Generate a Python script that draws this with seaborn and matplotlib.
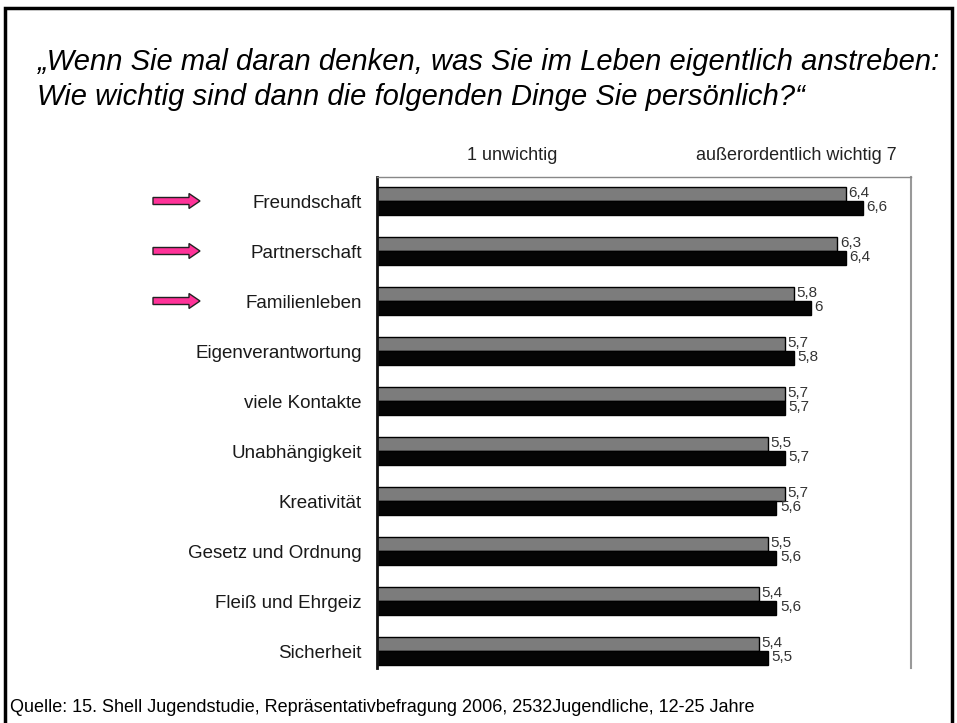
import pandas as pd
import matplotlib.pyplot as plt
import seaborn as sns
from matplotlib.patches import Rectangle, FancyArrow

# Werte (Skala 1 = unwichtig ... 7 = außerordentlich wichtig)
kategorien = ["Freundschaft", "Partnerschaft", "Familienleben", "Eigenverantwortung",
              "viele Kontakte", "Unabhängigkeit", "Kreativität", "Gesetz und Ordnung",
              "Fleiß und Ehrgeiz", "Sicherheit"]
werte_grau = [6.4, 6.3, 5.8, 5.7, 5.7, 5.5, 5.7, 5.5, 5.4, 5.4]
werte_schwarz = [6.6, 6.4, 6.0, 5.8, 5.7, 5.7, 5.6, 5.6, 5.6, 5.5]
serien = ["grau", "schwarz"]
pfeil_kategorien = ["Freundschaft", "Partnerschaft", "Familienleben"]

df = pd.DataFrame({
    "Kategorie": kategorien * 2,
    "Serie": [serien[0]] * len(kategorien) + [serien[1]] * len(kategorien),
    "Wert": werte_grau + werte_schwarz,
})

sns.set_theme(style="white")
plt.rcParams["font.family"] = ["Liberation Sans", "DejaVu Sans"]

fig = plt.figure(figsize=(9.57, 7.23), dpi=100)
ax = fig.add_axes([377 / 957, 55 / 723, 534 / 957, 491 / 723])

sns.barplot(data=df, x="Wert", y="Kategorie", hue="Serie", hue_order=serien,
            order=kategorien, palette={"grau": "#7c7c7c", "schwarz": "#050505"},
            width=0.56, edgecolor="black", linewidth=1.0, saturation=1,
            legend=False, ax=ax)

ax.set_xlim(1.0, 7.15)
ax.set_ylim(len(kategorien) - 1 + 0.34, -0.48)
ax.set_xlabel("")
ax.set_ylabel("")
ax.set_xticks([])
ax.tick_params(axis="y", length=0, pad=11, labelsize=13.5, labelcolor="#1a1a1a")

ax.spines["bottom"].set_visible(False)
ax.spines["left"].set_color("#111111")
ax.spines["left"].set_linewidth(2)
ax.spines["top"].set_color("#888888")
ax.spines["top"].set_linewidth(1)
ax.spines["right"].set_color("#999999")
ax.spines["right"].set_linestyle((0, (4, 1)))
ax.spines["right"].set_linewidth(1.5)

def fmt(v):
    s = f"{v:.1f}".replace(".", ",")
    return s[:-2] if s.endswith(",0") else s

for i, k in enumerate(kategorien):
    ax.text(werte_grau[i] + 0.03, i - 0.17, fmt(werte_grau[i]), fontsize=11,
            color="#333333", va="center", ha="left")
    ax.text(werte_schwarz[i] + 0.04, i + 0.12, fmt(werte_schwarz[i]), fontsize=11,
            color="#333333", va="center", ha="left")

# rosa Pfeile vor den ersten drei Kategorien
for k in pfeil_kategorien:
    i = kategorien.index(k)
    y_fig = ax.transData.transform((1, i))[1] / fig.dpi / 7.23
    fig.patches.append(FancyArrow(153 / 957, y_fig, 36 / 957, 0, width=7 / 723,
                                  head_width=15 / 723, head_length=11 / 957,
                                  length_includes_head=False, facecolor="#ff3399",
                                  edgecolor="#222222", linewidth=1,
                                  transform=fig.transFigure))

# Titel, Skalenbeschriftung und Quelle
fig.text(37 / 957, 1 - 62 / 723,
         "„Wenn Sie mal daran denken, was Sie im Leben eigentlich anstreben:",
         fontsize=21, style="italic", ha="left", va="center", color="black")
fig.text(37 / 957, 1 - 97 / 723,
         "Wie wichtig sind dann die folgenden Dinge Sie persönlich?“",
         fontsize=21, style="italic", ha="left", va="center", color="black")
fig.text(467 / 957, 1 - 155 / 723, "1 unwichtig", fontsize=13, color="#222222", va="center")
fig.text(897 / 957, 1 - 155 / 723, "außerordentlich wichtig 7", fontsize=13,
         color="#222222", va="center", ha="right")
fig.text(10 / 957, 1 - 708 / 723,
         "Quelle: 15. Shell Jugendstudie, Repräsentativbefragung 2006, 2532Jugendliche, 12-25 Jahre",
         fontsize=13, ha="left", va="center", color="black")

# Rahmen der Folie
fig.patches.append(Rectangle((5 / 957, -0.05), 947 / 957, 1.05 - 8 / 723, fill=False,
                             edgecolor="black", linewidth=2.5, transform=fig.transFigure))

fig.savefig("out.png", dpi=100)
